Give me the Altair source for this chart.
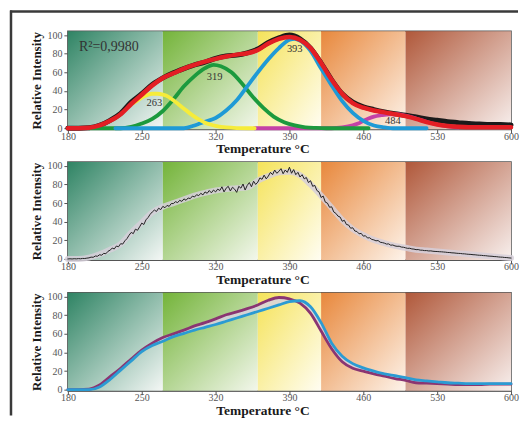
import altair as alt
import pandas as pd

# ---------------- data ----------------
band_edges = [180, 270, 360, 420, 500, 600]
band_colors = [("#2f8464", "#f4f7f5"), ("#74b43a", "#f3f7ec"), ("#f5e35a", "#fffdf2"),
               ("#e8883c", "#fdf3ea"), ("#b0583a", "#f8f0ee")]

x_ticks = [180, 250, 320, 390, 460, 530, 600]
y_ticks = [0, 20, 40, 60, 80, 100]

t10 = [180, 190, 200, 210, 220, 230, 240, 250, 260, 270, 280, 290, 300, 310, 320, 330, 340, 350, 360, 370,
       380, 390, 400, 410, 420, 430, 440, 450, 460, 470, 480, 490, 500, 510, 520, 530, 540, 550, 560, 570,
       580, 590, 600]

# panel 1 : fitted curve (red) and experimental curve (black)
fit_red = [0, 0, 0.5, 3, 8, 15, 26, 36, 46, 54, 59, 64, 68, 71.5, 74.5, 77, 79, 80.5, 84, 91,
           96, 98, 95, 86, 70, 52, 37, 27, 22, 19, 17, 15, 13, 10, 6.5, 4, 2.5, 1.5, 1, 1,
           1, 1, 1]
exp_black = [0, 0, 0.5, 3, 8.5, 16, 28, 37, 47, 54, 59.5, 64, 68, 71, 75, 77.5, 78.5, 81, 85, 92,
             97, 100, 96, 86, 70, 52, 37, 28, 23, 20, 17.5, 15.5, 14, 12, 10, 8.5, 7, 6, 5, 4.5,
             4, 4, 3.5]

# deconvolved peaks
yel_t = [242, 245, 250, 255, 260, 265, 270, 275, 280, 285, 290, 295, 300, 305, 310, 315, 320, 325, 330, 340, 357]
yel_v = [27, 29, 33, 35.5, 37, 37, 36, 34, 30, 25.5, 21, 16.5, 12.5, 9, 6, 4, 2.5, 1.5, 0.8, 0.2, 0]

grn_t = [200, 230, 240, 250, 260, 270, 280, 290, 300, 310, 318, 325, 335, 345, 355, 365, 375, 385, 395, 405, 415, 425, 465]
grn_v = [0, 0, 1.5, 5, 10, 18.5, 31, 45, 56, 64.5, 68, 66.5, 60, 48, 34, 22, 12.5, 6.5, 3, 1, 0.3, 0, 0]

blu_t = [225, 290, 300, 305, 310, 320, 330, 340, 350, 360, 370, 380, 390, 395, 400, 410, 420, 430, 440, 450, 460, 470, 480, 490, 520]
blu_v = [0, 0, 3, 5, 7, 11, 19, 30, 45, 60, 74, 86, 95, 96, 94, 83, 64, 46, 29, 16.5, 8, 3, 1, 0, 0]

mag_t = [357, 430, 440, 450, 455, 460, 465, 470, 477, 485, 492, 500, 510, 520, 530, 540, 550]
mag_v = [0, 0, 0.8, 3, 5, 8, 10.5, 12.5, 14, 15, 15, 13.5, 10.5, 7, 4, 2, 0.8]

peak_labels = ["263", "319", "393", "484"]
peak_lab_t = [262, 319, 395, 488]
peak_lab_v = [27, 55, 85, 7.5]

# panel 2 : raw noisy signal (every 2 degC)
t2 = list(range(180, 601, 2))
raw_v = [0, 0.2, 0, 0.3, 0.1, 0.4, 0.2, 0.6, 0.5, 0.9,
         1.2, 2, 1.8, 3.2, 2.9, 4.5, 4.1, 6, 5.6, 8.2,
         9.5, 11.6, 10.8, 13.9, 13.1, 16.4, 16, 19.5, 21.8, 25.5,
         28.5, 27.2, 32, 30.8, 34.5, 38.5, 37, 42, 44.5, 48,
         50.5, 52.5, 51, 54.5, 53, 56.5, 55, 57.5, 56.5, 59.5,
         59.5, 61.5, 60.5, 63, 61.8, 64.5, 63, 65.5, 64.8, 67.5,
         66.5, 69, 68, 70.5, 68.8, 72, 70.5, 73.5, 71, 74,
         72, 75, 73.5, 77.5, 72, 76, 78, 73, 77, 75,
         71.5, 78, 76, 80.5, 74, 79, 82, 77.5, 83.5, 80,
         82.5, 87, 85.5, 90, 86, 89, 93, 90.5, 95.5, 92,
         94, 97, 91.5, 95.5, 93, 98.5, 92, 96, 90.5, 93,
         88, 90.5, 86, 87.5, 82, 84, 78, 79, 73.5, 72,
         66, 67.5, 61, 60, 55.5, 56, 50.5, 49, 46, 45,
         40.5, 41.5, 37, 36.5, 33, 33.5, 30, 29.5, 27, 27.5,
         24.5, 25, 22.5, 22.8, 21, 20.5, 19.5, 19.8, 18, 17.6,
         17, 16, 16.2, 14.8, 15, 14, 13.6, 13.7, 12.8, 12.6,
         12, 11.4, 11.5, 10.8, 10.6, 10, 10.1, 9.5, 9.4, 9,
         9, 8.6, 8.7, 8.3, 8.1, 8, 7.8, 7.7, 7.5, 7.3,
         7, 6.9, 6.6, 6.5, 6.2, 6, 5.9, 5.6, 5.5, 5.2,
         5, 4.9, 4.6, 4.5, 4.2, 4, 3.9, 3.6, 3.5, 3.2,
         3, 2.9, 2.6, 2.5, 2.2, 2, 1.9, 1.6, 1.5, 1.2,
         1]
env_v = [0, 0, 1.5, 5, 10, 16, 28, 39, 50, 56, 60, 64, 68, 71, 73.5, 75, 76, 77, 84, 89,
         93, 93.5, 90, 80, 68, 55, 42, 32, 25.5, 20.5, 17, 14, 12, 10, 9, 8, 7, 6, 5, 4,
         3, 2, 1]

# panel 3 : two samples
purple_v = [0, 0, 0.5, 5, 14, 23, 33, 42.5, 50, 56, 60, 64, 68.5, 72, 76, 80.5, 83.5, 87, 91, 96,
            99, 97.5, 93, 82, 63, 44, 30, 23, 20, 17, 14.5, 12, 10, 7.5, 7, 6.5, 6, 5.5, 5.5, 5.5,
            6, 6, 6]
blue3_v = [0, 0, 0, 3, 11, 21, 31, 41, 47.5, 52, 57, 60.5, 64, 67, 70, 73.5, 77, 80.5, 84, 87.5,
           91, 94.5, 95.5, 89, 72, 50, 36, 28, 23.5, 20, 17, 15, 13, 10.5, 9.5, 8.5, 7.5, 7, 6.5, 6.5,
           6.5, 6.5, 6.5]

# ---------------- chart ----------------
W, H = 444, 98
SERIF = "Liberation Serif"
xs = alt.Scale(domain=[180, 600], nice=False, zero=False)
ys = alt.Scale(domain=[-1, 104], nice=False, zero=False)
x_axis = alt.Axis(values=x_ticks, title="Temperature °C", titleX=195, titleY=23.5,
                  titleBaseline="alphabetic", titleAlign="center", titleFontSize=13.5,
                  labelFlush=False, labelBaseline="middle", labelPadding=3, tickSize=4, grid=False)
y_axis = alt.Axis(values=y_ticks, title="Relative Intensity", titleX=-27, titleY=49, titleAngle=270,
                  titleBaseline="alphabetic", titleAlign="center", labelPadding=2, tickSize=4, grid=False)


def X(f):
    return alt.X(f, type="quantitative", scale=xs, axis=x_axis)


def Y(f):
    return alt.Y(f, type="quantitative", scale=ys, axis=y_axis)


def bands():
    out = []
    for i, (c0, c1) in enumerate(band_colors):
        df = pd.DataFrame({"a": [band_edges[i]], "b": [band_edges[i + 1]]})
        grad = alt.LinearGradient(gradient="linear",
                                  stops=[alt.GradientStop(color=c0, offset=0),
                                         alt.GradientStop(color=c1, offset=1)],
                                  x1=0, y1=0, x2=1, y2=1)
        out.append(alt.Chart(df).mark_rect(color=grad).encode(x=X("a"), x2="b"))
    return out


def line(t, v, color, width, interp="monotone", opacity=1.0):
    df = pd.DataFrame({"T": t, "v": v})
    return alt.Chart(df).mark_line(color=color, strokeWidth=width, interpolate=interp,
                                   strokeCap="round", strokeJoin="round", opacity=opacity).encode(
        x=X("T"), y=Y("v"))


dummy = pd.DataFrame({"z": [0]})
frame_h = alt.Chart(dummy).mark_rule(color="#3a3a3a", strokeWidth=2.5).encode(
    x=alt.value(-58), x2=alt.value(451), y=alt.value(-20))
frame_v = alt.Chart(dummy).mark_rule(color="#3a3a3a", strokeWidth=2.5).encode(
    x=alt.value(-57), y=alt.value(-21), y2=alt.value(385))

lab_df = pd.DataFrame({"T": peak_lab_t, "v": peak_lab_v, "s": peak_labels})
labels = alt.Chart(lab_df).mark_text(font=SERIF, fontSize=10.5, color="#333").encode(
    x=X("T"), y=Y("v"), text="s:N")
r2 = alt.Chart(pd.DataFrame({"T": [190.5], "v": [87], "s": ["R²=0,9980"]})).mark_text(
    font=SERIF, fontSize=14, color="#333", align="left").encode(x=X("T"), y=Y("v"), text="s:N")

p1 = alt.layer(
    *bands(), frame_h, frame_v,
    line(t10, exp_black, "#1a1a1a", 5),
    line(mag_t, mag_v, "#c441a6", 3.8),
    line(grn_t, grn_v, "#1c9a3e", 3.8),
    line(blu_t, blu_v, "#1f9ad6", 3.8),
    line(yel_t, yel_v, "#f6ec3a", 3.8),
    line(t10, fit_red, "#e31e24", 4.5),
    labels, r2,
).properties(width=W, height=H)

p2 = alt.layer(
    *bands(),
    line(t10, env_v, "#d6cfd9", 6, opacity=0.85),
    line(t2, raw_v, "#222222", 1, interp="linear"),
).properties(width=W, height=H)

area_df = pd.DataFrame({"T": t10, "p": purple_v, "b": blue3_v})
band3 = alt.Chart(area_df).mark_area(color="#d8d3df", opacity=0.85, interpolate="monotone").encode(
    x=X("T"), y=Y("p"), y2="b")

p3 = alt.layer(
    *bands(), band3,
    line(t10, purple_v, "#8a3572", 2.8),
    line(t10, blue3_v, "#2b9bd3", 2.8),
).properties(width=W, height=H)

chart = alt.vconcat(p1, p2, p3, spacing=33, bounds="flush", padding=0).configure_view(
    stroke="#555555", strokeWidth=1.5
).configure_axis(
    labelFont=SERIF, labelFontSize=10, labelColor="#555555",
    titleFont=SERIF, titleFontSize=13, titleFontWeight="bold", titleColor="#1a1a1a",
    domainColor="#555555", tickColor="#555555", domainWidth=1.2, tickWidth=1,
)

chart.save("out.html", embed_options={"renderer": "svg", "actions": False})
